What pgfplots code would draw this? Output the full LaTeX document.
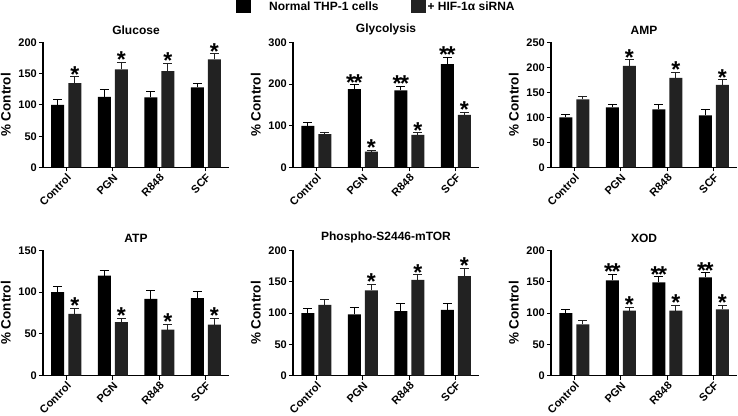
\documentclass[border=0pt]{standalone}
\usepackage{fontspec}
\setmainfont{Liberation Sans}
\usepackage{pgfplots}
\usepackage{pgfplotstable}
\pgfplotsset{compat=1.18}
\definecolor{gbar}{RGB}{34,34,34}
\newcommand{\dstar}{*\kern-1.5pt*}

\pgfplotstableread{
x a ae b be sa sb
0 100 9 135 10 {} *
1 113 11 157 11 {} *
2 112 9 154 13 {} *
3 128 6 173 9 {} *
}\glucose
\pgfplotstableread{
x a ae b be sa sb
0 100 8 80 4 {} {}
1 188 10 38 3 {\dstar} *
2 185 10 78 5 {\dstar} *
3 248 17 126 7 {\dstar} *
}\glycolysis
\pgfplotstableread{
x a ae b be sa sb
0 100 6 136 6 {} {}
1 120 6 203 12 {} *
2 116 10 179 11 {} *
3 104 11 165 10 {} *
}\amp
\pgfplotstableread{
x a ae b be sa sb
0 100 7 74 7 {} *
1 120 6 64 5 {} *
2 92 10 55 6 {} *
3 93 8 61 8 {} *
}\atp
\pgfplotstableread{
x a ae b be sa sb
0 100 8 113 9 {} {}
1 98 11 136 10 {} *
2 103 12 153 8 {} *
3 105 10 159 12 {} *
}\mtor
\pgfplotstableread{
x a ae b be sa sb
0 100 6 82 6 {} {}
1 152 10 104 5 {\dstar} *
2 149 9 104 8 {\dstar} *
3 157 7 106 6 {\dstar} *
}\xod

\pgfplotsset{
 panel/.style={
  width=186pt, height=125pt, scale only axis,
  xmin=-0.5, xmax=3.5, ymin=0,
  axis lines=left, axis line style={-, line width=1.1pt},
  xtick={0,1,2,3}, xticklabels={Control,PGN,R848,SCF},
  tick align=outside, major tick length=4pt,
  tick style={line width=1pt, black},
  xticklabel style={rotate=45, anchor=north east, font=\fontsize{11}{12}\selectfont\bfseries, inner sep=1pt},
  yticklabel style={font=\fontsize{11}{12}\selectfont\bfseries, inner sep=2pt},
  /pgf/number format/assume math mode=true,
  ylabel={\% Control},
  ylabel style={at={(axis description cs:-0.2,0.5)}, anchor=center, font=\fontsize{13.5}{14}\selectfont\bfseries},
  title style={font=\fontsize{12}{13}\selectfont\bfseries, yshift=-2pt},
  clip=false,
 },
 barA/.style={ybar, bar width=13pt, bar shift=0pt, fill=black, draw=none,
   error bars/.cd, y dir=plus, y explicit,
   error bar style={line width=1pt, draw=black},
   error mark options={rotate=90, mark size=4.5pt, line width=1pt, draw=black}},
 barB/.style={ybar, bar width=13pt, bar shift=0pt, fill=gbar, draw=none,
   error bars/.cd, y dir=plus, y explicit,
   error bar style={line width=1pt, draw=gbar},
   error mark options={rotate=90, mark size=4.5pt, line width=1pt, draw=gbar}},
 star/.style={only marks, mark=*, mark size=0pt, mark options={draw=none, fill=none},
   nodes near coords, point meta=explicit symbolic, forget plot,
   every node near coord/.append style={font=\fontsize{23}{23}\selectfont\bfseries, inner sep=0pt, anchor=south, yshift=-5.5pt, text=black}},
}

% bar centres sit 8.5pt (0.1828 x-units at 46.5pt per unit) either side of the tick
\newcommand{\panelplots}[1]{%
  \addplot[barA] table[x expr=\thisrow{x}-0.1828, y=a, y error=ae] {#1};
  \addplot[barB] table[x expr=\thisrow{x}+0.1828, y=b, y error=be] {#1};
  \addplot[star] table[x expr=\thisrow{x}-0.1828, y expr=\thisrow{a}+\thisrow{ae}, meta=sa] {#1};
  \addplot[star] table[x expr=\thisrow{x}+0.1828, y expr=\thisrow{b}+\thisrow{be}, meta=sb] {#1};
}

\begin{document}
\begin{tikzpicture}
\useasboundingbox (0,0) rectangle (738pt,415pt);

\begin{axis}[panel, at={(43pt,247.5pt)}, anchor=south west, ymax=200, ytick={0,50,100,150,200}, title={Glucose}]
\panelplots{\glucose}
\end{axis}

\begin{axis}[panel, at={(293pt,247.5pt)}, anchor=south west, ymax=300, ytick={0,100,200,300}, title={Glycolysis},
  legend image code/.code={\fill[#1] (0pt,-7pt) rectangle (15pt,7pt);},
  legend style={at={(axis description cs:0,1)}, anchor=west, yshift=36pt, xshift=-57pt, draw=none, fill=none, inner sep=0pt,
    legend columns=2, font=\fontsize{12}{13}\selectfont\bfseries,
    /tikz/every even column/.append style={column sep=30pt},
    nodes={inner sep=2pt}}]
\addplot[barA] table[x expr=\thisrow{x}-0.1828, y=a, y error=ae] {\glycolysis};
\addlegendentry{\hspace{16pt}Normal THP-1 cells}
\addplot[barB] table[x expr=\thisrow{x}+0.1828, y=b, y error=be] {\glycolysis};
\addlegendentry{+ HIF-1α siRNA}
\addplot[star] table[x expr=\thisrow{x}-0.1828, y expr=\thisrow{a}+\thisrow{ae}, meta=sa] {\glycolysis};
\addplot[star] table[x expr=\thisrow{x}+0.1828, y expr=\thisrow{b}+\thisrow{be}, meta=sb] {\glycolysis};
\end{axis}

\begin{axis}[panel, at={(551pt,247.5pt)}, anchor=south west, ymax=250, ytick={0,50,100,150,200,250}, title={AMP}]
\panelplots{\amp}
\end{axis}

\begin{axis}[panel, at={(43pt,39.5pt)}, anchor=south west, ymax=150, ytick={0,50,100,150}, title={ATP}]
\panelplots{\atp}
\end{axis}

\begin{axis}[panel, at={(293pt,39.5pt)}, anchor=south west, ymax=200, ytick={0,50,100,150,200}, title={Phospho-S2446-mTOR}]
\panelplots{\mtor}
\end{axis}

\begin{axis}[panel, at={(551pt,39.5pt)}, anchor=south west, ymax=200, ytick={0,50,100,150,200}, title={XOD}]
\panelplots{\xod}
\end{axis}

\end{tikzpicture}
\end{document}
